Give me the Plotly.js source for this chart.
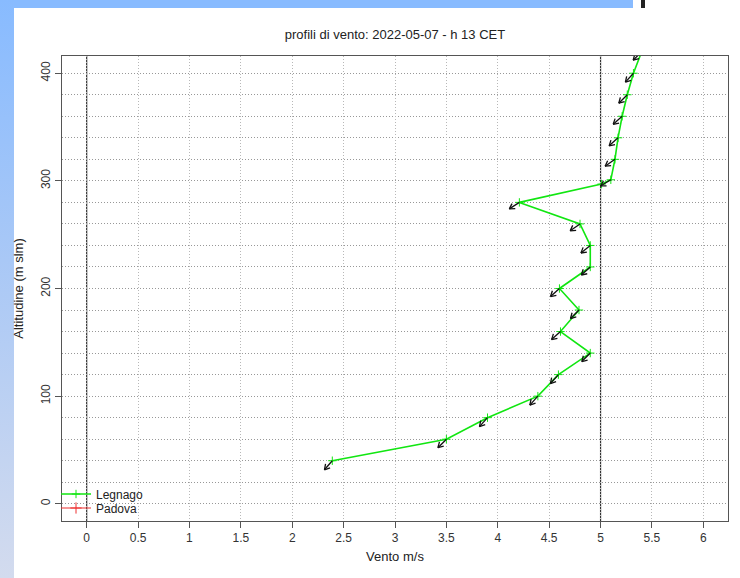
<!DOCTYPE html>
<html>
<head>
<meta charset="utf-8">
<script src="https://cdn.plot.ly/plotly-3.0.1.min.js"></script>
<style>
  html, body { margin: 0; padding: 0; background: #ffffff; }
  #wrap { position: relative; width: 740px; height: 578px; overflow: hidden; background: #ffffff; }
  #topbar { position: absolute; left: 0; top: 0; width: 633px; height: 8px; background: #88bbff; }
  #leftbar { position: absolute; left: 0; top: 0; width: 14px; height: 578px;
             background: linear-gradient(to bottom, #88bbff 0%, #a9c8f6 45%, #d3dbee 100%); }
  #mark { position: absolute; left: 641px; top: 0; width: 4px; height: 8px; background: #222; }
  #chart { position: absolute; left: 0; top: 0; width: 740px; height: 578px; }
</style>
</head>
<body>
<div id="wrap">
  <div id="topbar"></div>
  <div id="leftbar"></div>
  <div id="mark"></div>
  <div id="chart"></div>
</div>
<script>
// ---- data ----
const heights = [40, 60, 80, 100, 120, 140, 160, 180, 200, 220, 240, 260, 280, 297, 301, 320, 340, 360, 380, 400, 420];
const speeds  = [2.39, 3.50, 3.90, 4.39, 4.59, 4.90, 4.61, 4.79, 4.60, 4.90, 4.90, 4.80, 4.21, 5.01, 5.10, 5.14, 5.17, 5.21, 5.26, 5.32, 5.40];
// wind direction (degrees, where the wind blows from); null = no arrow drawn
const windDir = [41, 45, 42, 42, 42, 45, 48, 45, 48, 48, 51, 55, 57, null, 59, 55, 48, 48, 45, 42, 45];
const xTickVals = [0, 0.5, 1, 1.5, 2, 2.5, 3, 3.5, 4, 4.5, 5, 5.5, 6];
const yTickVals = [0, 100, 200, 300, 400];
const refLinesX = [0, 5];

// ---- layout geometry ----
const W = 740, H = 578;
const M = {l: 62, r: 12, t: 56, b: 57};
const xRange = [-0.24, 6.24];
const yRange = [-16, 416];
const plotW = W - M.l - M.r, plotH = H - M.t - M.b;
const pxX = plotW / (xRange[1] - xRange[0]);
const pxY = plotH / (yRange[1] - yRange[0]);

// arrows built from wind direction through the axis scales
const arrowLen = 12, headLen = 6, headAng = 30 * Math.PI / 180;
const ax = [], ay = [];
for (let i = 0; i < heights.length; i++) {
  if (windDir[i] === null) continue;
  const th = (windDir[i] + 180) * Math.PI / 180;   // direction the wind goes to
  const ex = Math.sin(th), ny = Math.cos(th);      // screen east / north unit vector
  const x0 = speeds[i], y0 = heights[i];
  const x1 = x0 + arrowLen * ex / pxX, y1 = y0 + arrowLen * ny / pxY;
  ax.push(x0, x1, null); ay.push(y0, y1, null);
  const back = Math.atan2(-ny, -ex);
  for (const s of [1, -1]) {
    const a = back + s * headAng;
    ax.push(x1, x1 + headLen * Math.cos(a) / pxX, null);
    ay.push(y1, y1 + headLen * Math.sin(a) / pxY, null);
  }
}

const font = "'Liberation Sans', Arial, sans-serif";
const traces = [
  {
    x: speeds, y: heights, name: 'Legnago', type: 'scatter', mode: 'lines+markers', legend: 'legend',
    line: {color: '#11e611', width: 1.6},
    marker: {symbol: 'cross-thin-open', size: 6, line: {color: '#11e611', width: 1}, color: '#11e611'},
    hoverinfo: 'x+y'
  },
  {
    x: [null], y: [null], name: 'Padova', type: 'scatter', mode: 'lines+markers', legend: 'legend2',
    line: {color: '#ee3030', width: 1.2},
    marker: {symbol: 'cross-thin-open', size: 8, line: {color: '#ee3030', width: 1}, color: '#ee3030'}
  },
  {
    x: ax, y: ay, type: 'scatter', mode: 'lines', showlegend: false, hoverinfo: 'skip',
    line: {color: '#111111', width: 1.3}
  }
];

const legendCommon = {xanchor: 'left', yanchor: 'middle', bgcolor: 'rgba(0,0,0,0)', borderwidth: 0,
                      font: {family: font, size: 12, color: '#222'}, itemwidth: 30};
const dotDash = '1px,2px';
const layout = {
  width: W, height: H,
  margin: M,
  paper_bgcolor: 'rgba(0,0,0,0)',
  plot_bgcolor: '#ffffff',
  font: {family: font, size: 12, color: '#222'},
  title: {text: 'profili di vento: 2022-05-07 - h 13 CET', font: {family: font, size: 13, color: '#222'},
          x: 0.5, xref: 'paper', xanchor: 'center', y: 1 - 34 / H, yanchor: 'middle'},
  showlegend: true,
  legend: Object.assign({x: -6 / plotW, y: (521 - 494) / plotH}, legendCommon),
  legend2: Object.assign({x: -6 / plotW, y: (521 - 508) / plotH}, legendCommon),
  xaxis: {
    range: xRange, tickmode: 'array', tickvals: xTickVals, ticktext: xTickVals.map(String),
    showgrid: true, gridcolor: '#b8b8b8', griddash: dotDash, gridwidth: 1,
    zeroline: false, showline: true, mirror: true, linecolor: '#555', linewidth: 1,
    ticks: 'outside', ticklen: 6, tickcolor: '#555',
    tickfont: {family: font, size: 12, color: '#333'},
    title: {text: 'Vento m/s', font: {family: font, size: 13, color: '#222'}, standoff: 7}
  },
  yaxis: {
    range: yRange, tickmode: 'array', tickvals: yTickVals, tickangle: -90,
    showgrid: true, gridcolor: '#989898', griddash: dotDash, gridwidth: 1,
    minor: {dtick: 20, tick0: 0, showgrid: true, gridcolor: '#989898', griddash: dotDash, gridwidth: 1, ticks: ''},
    zeroline: false, showline: true, mirror: true, linecolor: '#555', linewidth: 1,
    ticks: 'outside', ticklen: 6, tickcolor: '#555',
    tickfont: {family: font, size: 12, color: '#333'},
    title: {text: 'Altitudine (m slm)', font: {family: font, size: 13, color: '#222'}, standoff: 12}
  },
  shapes: refLinesX.map(v => ({type: 'line', xref: 'x', yref: 'paper', x0: v, x1: v, y0: 0, y1: 1,
                               line: {color: '#333', width: 1.2}, layer: 'between'}))
};

Plotly.newPlot('chart', traces, layout, {displayModeBar: false, staticPlot: true});
</script>
</body>
</html>
